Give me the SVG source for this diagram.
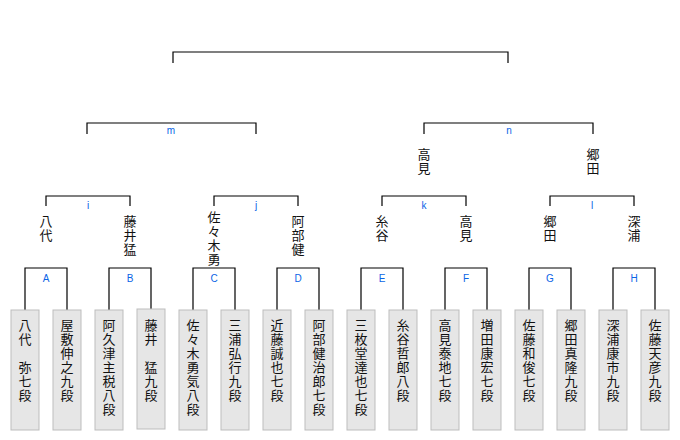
<svg xmlns="http://www.w3.org/2000/svg" width="680" height="440" viewBox="0 0 680 440">
<style>
.ln{fill:none;stroke:#000;stroke-width:1.2}
.bx{fill:#e6e6e6;stroke:#bdbdbd;stroke-width:1}
.nm{font-family:"Noto Sans CJK JP",sans-serif;font-size:13px;fill:#111;text-anchor:middle}
.lb{font-family:"Liberation Sans",sans-serif;font-size:10px;fill:#0a64e6;text-anchor:middle}
</style>
<rect width="680" height="440" fill="#fff"/>
<g id="connectors">
<path class="ln" d="M173,63V52H508V63"/>
<path class="ln" d="M87,134V123H256V134M424,134V123H593V134"/>
<path class="ln" d="M46,206V196H130V206M214,206V196H298V206M382,206V196H466V206M550,206V196H634V206"/>
<path class="ln" d="M25,310V268H67V310M109,310V268H151V310M193,310V268H235V310M277,310V268H319V310M361,310V268H403V310M445,310V268H487V310M529,310V268H571V310M613,310V268H655V310"/>
</g>
<g id="labels">
<text class="lb" x="171" y="134">m</text><text class="lb" x="509" y="134">n</text>
<text class="lb" x="88" y="209">i</text><text class="lb" x="256" y="209">j</text><text class="lb" x="424" y="209">k</text><text class="lb" x="592" y="209">l</text>
<text class="lb" x="46" y="282">A</text><text class="lb" x="130" y="282">B</text><text class="lb" x="214" y="282">C</text><text class="lb" x="298" y="282">D</text><text class="lb" x="382" y="282">E</text><text class="lb" x="466" y="282">F</text><text class="lb" x="550" y="282">G</text><text class="lb" x="634" y="282">H</text>
</g>
<g id="r2">
<text class="nm"><tspan x="424" y="159">高</tspan><tspan x="424" y="173">見</tspan></text>
<text class="nm"><tspan x="593" y="159">郷</tspan><tspan x="593" y="173">田</tspan></text>
</g>
<g id="r1">
<text class="nm"><tspan x="46" y="226">八</tspan><tspan x="46" y="240">代</tspan></text>
<text class="nm"><tspan x="130" y="226">藤</tspan><tspan x="130" y="240">井</tspan><tspan x="130" y="254">猛</tspan></text>
<text class="nm"><tspan x="214" y="222">佐</tspan><tspan x="214" y="236">々</tspan><tspan x="214" y="250">木</tspan><tspan x="214" y="264">勇</tspan></text>
<text class="nm"><tspan x="298" y="226">阿</tspan><tspan x="298" y="240">部</tspan><tspan x="298" y="254">健</tspan></text>
<text class="nm"><tspan x="382" y="226">糸</tspan><tspan x="382" y="240">谷</tspan></text>
<text class="nm"><tspan x="466" y="226">高</tspan><tspan x="466" y="240">見</tspan></text>
<text class="nm"><tspan x="550" y="226">郷</tspan><tspan x="550" y="240">田</tspan></text>
<text class="nm"><tspan x="634" y="226">深</tspan><tspan x="634" y="240">浦</tspan></text>
</g>
<g id="p1"><rect class="bx" x="11" y="310" width="28" height="120"/><text class="nm"><tspan x="25" y="330">八</tspan><tspan x="25" y="344">代</tspan><tspan x="25" y="372">弥</tspan><tspan x="25" y="386">七</tspan><tspan x="25" y="400">段</tspan></text></g>
<g id="p2"><rect class="bx" x="53" y="310" width="28" height="120"/><text class="nm"><tspan x="67" y="330">屋</tspan><tspan x="67" y="344">敷</tspan><tspan x="67" y="358">伸</tspan><tspan x="67" y="372">之</tspan><tspan x="67" y="386">九</tspan><tspan x="67" y="400">段</tspan></text></g>
<g id="p3"><rect class="bx" x="95" y="310" width="28" height="120"/><text class="nm"><tspan x="109" y="330">阿</tspan><tspan x="109" y="344">久</tspan><tspan x="109" y="358">津</tspan><tspan x="109" y="372">主</tspan><tspan x="109" y="386">税</tspan><tspan x="109" y="400">八</tspan><tspan x="109" y="414">段</tspan></text></g>
<g id="p4"><rect class="bx" x="137" y="309" width="28" height="120"/><text class="nm"><tspan x="151" y="330">藤</tspan><tspan x="151" y="344">井</tspan><tspan x="151" y="372">猛</tspan><tspan x="151" y="386">九</tspan><tspan x="151" y="400">段</tspan></text></g>
<g id="p5"><rect class="bx" x="179" y="310" width="28" height="120"/><text class="nm"><tspan x="193" y="330">佐</tspan><tspan x="193" y="344">々</tspan><tspan x="193" y="358">木</tspan><tspan x="193" y="372">勇</tspan><tspan x="193" y="386">気</tspan><tspan x="193" y="400">八</tspan><tspan x="193" y="414">段</tspan></text></g>
<g id="p6"><rect class="bx" x="221" y="310" width="28" height="120"/><text class="nm"><tspan x="235" y="330">三</tspan><tspan x="235" y="344">浦</tspan><tspan x="235" y="358">弘</tspan><tspan x="235" y="372">行</tspan><tspan x="235" y="386">九</tspan><tspan x="235" y="400">段</tspan></text></g>
<g id="p7"><rect class="bx" x="263" y="310" width="28" height="120"/><text class="nm"><tspan x="277" y="330">近</tspan><tspan x="277" y="344">藤</tspan><tspan x="277" y="358">誠</tspan><tspan x="277" y="372">也</tspan><tspan x="277" y="386">七</tspan><tspan x="277" y="400">段</tspan></text></g>
<g id="p8"><rect class="bx" x="305" y="310" width="28" height="120"/><text class="nm"><tspan x="319" y="330">阿</tspan><tspan x="319" y="344">部</tspan><tspan x="319" y="358">健</tspan><tspan x="319" y="372">治</tspan><tspan x="319" y="386">郎</tspan><tspan x="319" y="400">七</tspan><tspan x="319" y="414">段</tspan></text></g>
<g id="p9"><rect class="bx" x="347" y="310" width="28" height="120"/><text class="nm"><tspan x="361" y="330">三</tspan><tspan x="361" y="344">枚</tspan><tspan x="361" y="358">堂</tspan><tspan x="361" y="372">達</tspan><tspan x="361" y="386">也</tspan><tspan x="361" y="400">七</tspan><tspan x="361" y="414">段</tspan></text></g>
<g id="p10"><rect class="bx" x="389" y="310" width="28" height="120"/><text class="nm"><tspan x="403" y="330">糸</tspan><tspan x="403" y="344">谷</tspan><tspan x="403" y="358">哲</tspan><tspan x="403" y="372">郎</tspan><tspan x="403" y="386">八</tspan><tspan x="403" y="400">段</tspan></text></g>
<g id="p11"><rect class="bx" x="431" y="310" width="28" height="120"/><text class="nm"><tspan x="445" y="330">高</tspan><tspan x="445" y="344">見</tspan><tspan x="445" y="358">泰</tspan><tspan x="445" y="372">地</tspan><tspan x="445" y="386">七</tspan><tspan x="445" y="400">段</tspan></text></g>
<g id="p12"><rect class="bx" x="473" y="310" width="28" height="120"/><text class="nm"><tspan x="487" y="330">増</tspan><tspan x="487" y="344">田</tspan><tspan x="487" y="358">康</tspan><tspan x="487" y="372">宏</tspan><tspan x="487" y="386">七</tspan><tspan x="487" y="400">段</tspan></text></g>
<g id="p13"><rect class="bx" x="515" y="310" width="28" height="120"/><text class="nm"><tspan x="529" y="330">佐</tspan><tspan x="529" y="344">藤</tspan><tspan x="529" y="358">和</tspan><tspan x="529" y="372">俊</tspan><tspan x="529" y="386">七</tspan><tspan x="529" y="400">段</tspan></text></g>
<g id="p14"><rect class="bx" x="557" y="310" width="28" height="120"/><text class="nm"><tspan x="571" y="330">郷</tspan><tspan x="571" y="344">田</tspan><tspan x="571" y="358">真</tspan><tspan x="571" y="372">隆</tspan><tspan x="571" y="386">九</tspan><tspan x="571" y="400">段</tspan></text></g>
<g id="p15"><rect class="bx" x="599" y="310" width="28" height="120"/><text class="nm"><tspan x="613" y="330">深</tspan><tspan x="613" y="344">浦</tspan><tspan x="613" y="358">康</tspan><tspan x="613" y="372">市</tspan><tspan x="613" y="386">九</tspan><tspan x="613" y="400">段</tspan></text></g>
<g id="p16"><rect class="bx" x="641" y="310" width="28" height="120"/><text class="nm"><tspan x="655" y="330">佐</tspan><tspan x="655" y="344">藤</tspan><tspan x="655" y="358">天</tspan><tspan x="655" y="372">彦</tspan><tspan x="655" y="386">九</tspan><tspan x="655" y="400">段</tspan></text></g>
</svg>
